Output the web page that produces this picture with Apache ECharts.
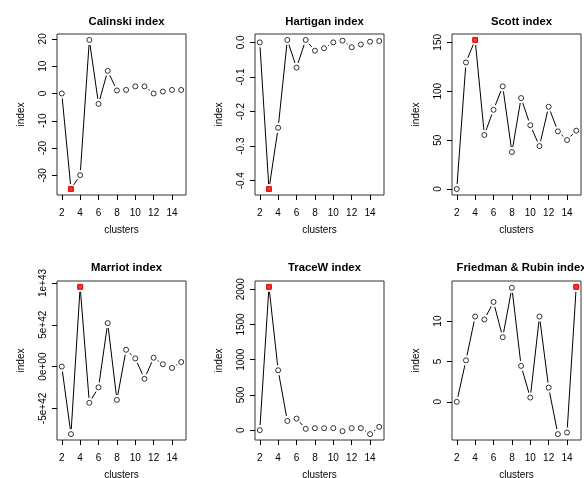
<!DOCTYPE html>
<html>
<head>
<meta charset="utf-8">
<script src="https://cdn.jsdelivr.net/npm/echarts@6.0.0/dist/echarts.min.js"></script>
<style>
html, body { margin: 0; padding: 0; background: #fff; }
#main { width: 584px; height: 478px; }
</style>
</head>
<body>
<div id="main"></div>
<script>
// data
var clusters = [2, 3, 4, 5, 6, 7, 8, 9, 10, 11, 12, 13, 14, 15];
var calinski = [0, -35.0, -29.9, 19.6, -3.8, 8.3, 1.1, 1.3, 2.6, 2.6, 0, 0.7, 1.3, 1.3];
var hartigan = [0, -0.424, -0.247, 0.007, -0.073, 0.007, -0.024, -0.017, 0, 0.005, -0.014, -0.006, 0.002, 0.004];
var scott = [0, 129.4, 152.4, 55.3, 81.0, 105.0, 37.8, 93.0, 65.2, 43.9, 84.1, 59.0, 50.1, 59.7];
var marriot = [0, -8.07e42, 9.53e42, -4.33e42, -2.48e42, 5.20e42, -3.98e42, 2.01e42, 0.98e42, -1.46e42, 1.06e42, 0.28e42, -0.16e42, 0.55e42];
var tracew = [0, 2033, 850, 131, 164, 19, 28, 28, 28, -14, 28, 28, -56, 47];
var friedman = [0, 5.14, 10.57, 10.2, 12.37, 8.0, 14.12, 4.45, 0.53, 10.57, 1.76, -4.0, -3.8, 14.24];

var titles = ['Calinski index', 'Hartigan index', 'Scott index', 'Marriot index', 'TraceW index', 'Friedman & Rubin index'];
var bestClusters = [3, 3, 4, 4, 3, 15];

var xTicks = [2, 4, 6, 8, 10, 12, 14];
var yTicks = [
    [-30, -20, -10, 0, 10, 20],
    [-0.4, -0.3, -0.2, -0.1, 0],
    [0, 50, 100, 150],
    [-5e42, 0, 5e42, 1e43],
    [0, 500, 1000, 1500, 2000],
    [0, 5, 10]
];
var yTickLabels = [
    ['-30', '-20', '-10', '0', '10', '20'],
    ['-0.4', '-0.3', '-0.2', '-0.1', '0.0'],
    ['0', '50', '100', '150'],
    ['-5e+42', '0e+00', '5e+42', '1e+43'],
    ['0', '500', '1000', '1500', '2000'],
    ['0', '5', '10']
];

var allSeries = [calinski, hartigan, scott, marriot, tracew, friedman];

var myChart = echarts.init(document.getElementById('main'));

var font = 'Liberation Sans, Arial, sans-serif';
var lefts = [57, 255, 452];
var tops = [34, 281];
var heights = [161, 159];
var boxW = 129;
var gap = 5;

// R type="b": segments stop short of the points
function renderSegment(params, api) {
    var p1 = api.coord([api.value(0), api.value(1)]);
    var p2 = api.coord([api.value(2), api.value(3)]);
    var dx = p2[0] - p1[0], dy = p2[1] - p1[1];
    var len = Math.sqrt(dx * dx + dy * dy);
    if (len <= 2 * gap) return null;
    var ux = dx / len, uy = dy / len;
    return {
        type: 'line',
        shape: { x1: p1[0] + ux * gap, y1: p1[1] + uy * gap, x2: p2[0] - ux * gap, y2: p2[1] - uy * gap },
        style: { stroke: '#000', lineWidth: 1 }
    };
}

var option = { animation: false, title: [], grid: [], xAxis: [], yAxis: [], series: [] };

allSeries.forEach(function (vals, k) {
    var row = Math.floor(k / 3), col = k % 3;
    var left = lefts[col], top = tops[row], h = heights[row];
    var vmin = Math.min.apply(null, vals), vmax = Math.max.apply(null, vals);
    var pad = (vmax - vmin) * 0.04;
    var ticks = yTicks[k], labels = yTickLabels[k];

    option.title.push({
        text: titles[k],
        left: left + boxW / 2,
        top: row === 0 ? 17 : 263,
        textAlign: 'center',
        textVerticalAlign: 'middle',
        textStyle: { fontFamily: font, fontSize: 11.3, fontWeight: 'bold', color: '#000' }
    });
    option.grid.push({
        left: left, top: top, width: boxW, height: h,
        show: true, borderColor: '#333', borderWidth: 1, backgroundColor: 'transparent',
        containLabel: false, outerBoundsMode: 'none'
    });
    option.xAxis.push({
        type: 'value', gridIndex: k, min: 1.48, max: 15.52,
        name: 'clusters', nameLocation: 'middle', nameGap: 30,
        nameTextStyle: { fontFamily: font, fontSize: 10, color: '#000' },
        axisLine: { show: false, onZero: false },
        splitLine: { show: false },
        axisTick: { show: true, inside: false, length: 5, customValues: xTicks, lineStyle: { color: '#000' } },
        axisLabel: { customValues: xTicks, margin: 13, fontFamily: font, fontSize: 10, color: '#000' }
    });
    option.yAxis.push({
        type: 'value', gridIndex: k, min: vmin - pad, max: vmax + pad,
        name: 'index', nameLocation: 'middle', nameGap: 31,
        nameTextStyle: { fontFamily: font, fontSize: 10, color: '#000' },
        axisLine: { show: false, onZero: false },
        splitLine: { show: false },
        axisTick: { show: true, inside: false, length: 5, customValues: ticks, lineStyle: { color: '#000' } },
        axisLabel: {
            customValues: ticks, rotate: 90, margin: 9,
            fontFamily: font, fontSize: 10, color: '#000',
            formatter: function (v) {
                var i = ticks.indexOf(v);
                return i >= 0 ? labels[i] : '';
            }
        }
    });

    var segs = [];
    for (var i = 0; i < clusters.length - 1; i++) {
        segs.push([clusters[i], vals[i], clusters[i + 1], vals[i + 1]]);
    }
    option.series.push({
        type: 'custom', xAxisIndex: k, yAxisIndex: k,
        renderItem: renderSegment,
        encode: { x: [0, 2], y: [1, 3] },
        data: segs, silent: true
    });
    option.series.push({
        type: 'scatter', xAxisIndex: k, yAxisIndex: k,
        symbol: 'circle', symbolSize: 5,
        itemStyle: { color: 'rgba(0,0,0,0)', borderColor: '#000', borderWidth: 1 },
        data: clusters.map(function (c, i) { return [c, vals[i]]; }),
        silent: true
    });
    var bi = clusters.indexOf(bestClusters[k]);
    option.series.push({
        type: 'scatter', xAxisIndex: k, yAxisIndex: k,
        symbol: 'rect', symbolSize: 6,
        itemStyle: { color: '#ff0000' },
        data: [[clusters[bi], vals[bi]]],
        silent: true, z: 5
    });
});

myChart.setOption(option);
</script>
</body>
</html>
